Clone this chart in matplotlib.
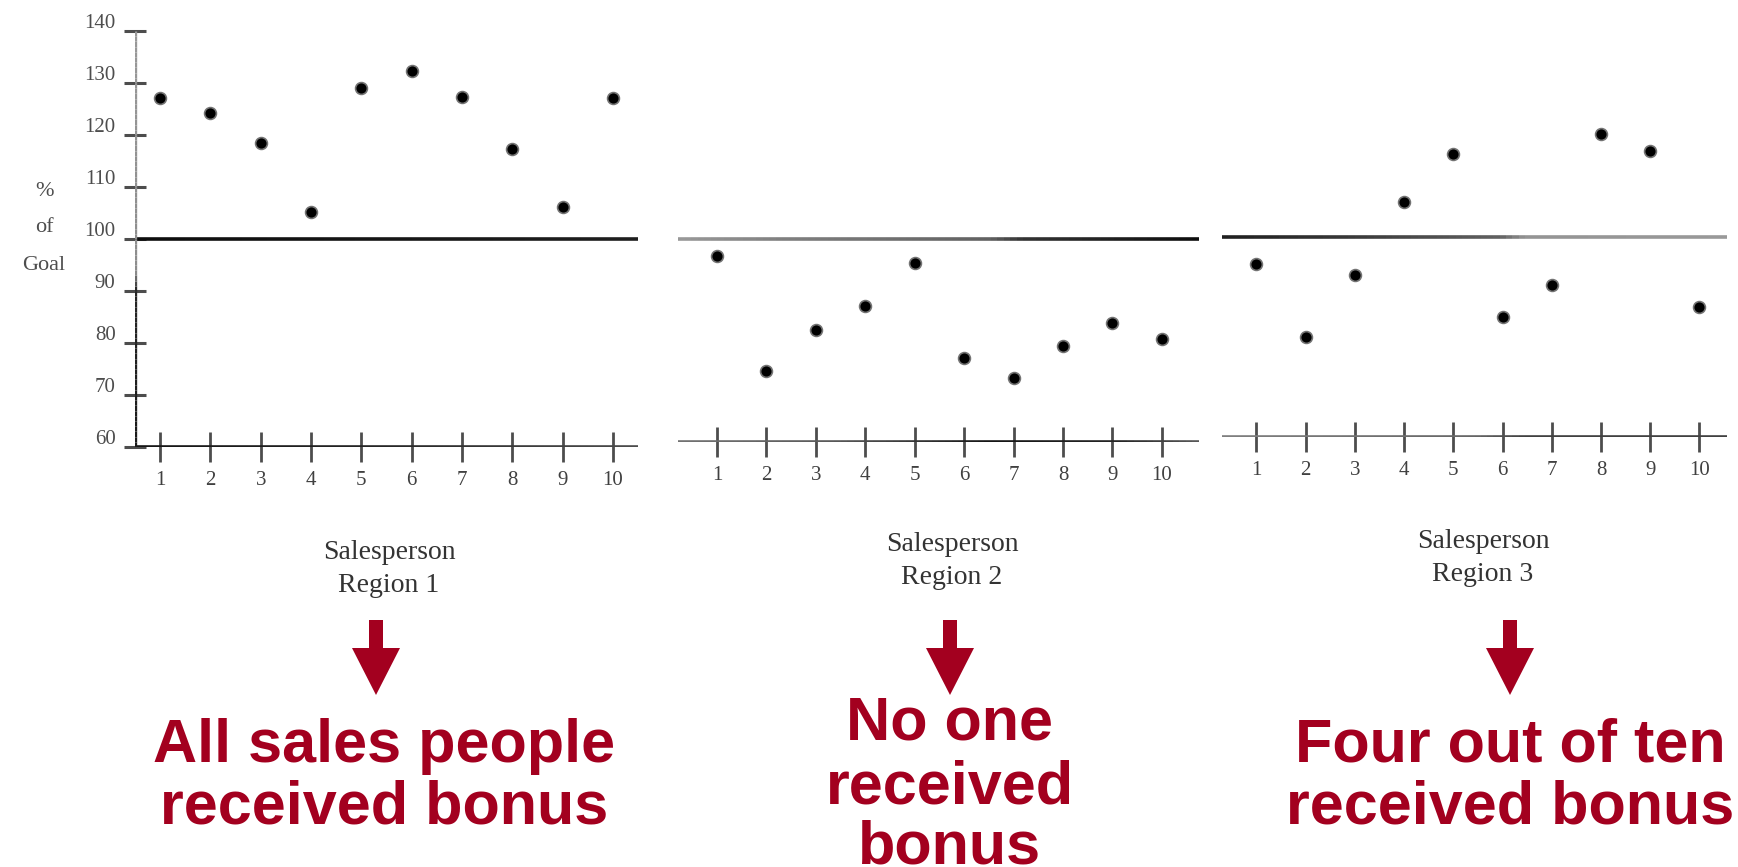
import matplotlib
matplotlib.use("Agg")
import matplotlib.pyplot as plt
import matplotlib.transforms as mtransforms
import numpy as np
from matplotlib.collections import LineCollection
from matplotlib.patches import Polygon

W, H, DPI = 1738, 867, 100

# ---- data -------------------------------------------------------------
salespeople = list(range(1, 11))
region1_pct = [127.2, 124.2, 118.5, 105.1, 129.0, 132.3, 127.4, 117.4, 106.2, 127.2]
region2_pct = [96.7, 74.0, 82.1, 86.8, 95.2, 76.5, 72.6, 78.9, 83.5, 80.2]
region3_pct = [94.7, 80.1, 92.5, 107.0, 116.7, 84.1, 90.5, 120.7, 117.3, 86.1]
goal_pct = 100
y_ticks = [60, 70, 80, 90, 100, 110, 120, 130, 140]
region_labels = ["Salesperson\nRegion 1", "Salesperson\nRegion 2", "Salesperson\nRegion 3"]
captions = [["All sales people", "received bonus"],
            ["No one", "received", "bonus"],
            ["Four out of ten", "received bonus"]]

RED = "#a3001f"
SERIF = ["Liberation Serif", "DejaVu Serif"]
SANS = ["Liberation Sans", "DejaVu Sans"]

fig = plt.figure(figsize=(W / DPI, H / DPI), dpi=DPI)
fig.patch.set_facecolor("white")


def px_axes(left, top, right, bottom):
    ax = fig.add_axes([left / W, 1 - bottom / H, (right - left) / W, (bottom - top) / H])
    ax.patch.set_alpha(0)
    for s in ax.spines.values():
        s.set_visible(False)
    return ax


def shaded_line(ax, p0, p1, stops, lw, n=80):
    """Straight line whose grey level varies along its length."""
    t = np.linspace(0, 1, n + 1)
    xs = p0[0] + (p1[0] - p0[0]) * t
    ys = p0[1] + (p1[1] - p0[1]) * t
    segs = [[(xs[i], ys[i]), (xs[i + 1], ys[i + 1])] for i in range(n)]
    mid = (t[:-1] + t[1:]) / 2
    g = np.interp(mid, [s[0] for s in stops], [s[1] for s in stops])
    lc = LineCollection(segs, colors=[(v, v, v) for v in g], linewidths=lw,
                        capstyle="butt", zorder=2)
    ax.add_collection(lc)


# panel boxes in pixels (left, top, right, bottom) and x-limits
panels = [
    dict(box=(135, 31, 638, 447), xlim=(0.5, 10.5), data=region1_pct,
         goal_stops=[(0, 0.05), (1, 0.12)],
         axis_stops=[(0, 0.08), (0.5, 0.15), (1, 0.3)]),
    dict(box=(678, 36, 1199, 442), xlim=(0.21, 10.75), data=region2_pct,
         goal_stops=[(0, 0.6), (0.2, 0.5), (0.6, 0.38), (0.66, 0.2), (1, 0.05)],
         axis_stops=[(0, 0.45), (0.3, 0.35), (0.6, 0.08), (0.85, 0.15), (1, 0.35)]),
    dict(box=(1222, 37, 1727, 437), xlim=(0.30, 10.56), data=region3_pct,
         goal_stops=[(0, 0.12), (0.25, 0.22), (0.55, 0.38), (0.6, 0.58), (1, 0.6)],
         axis_stops=[(0, 0.5), (0.5, 0.4), (0.6, 0.25), (1, 0.25)]),
]

axes = []
for i, p in enumerate(panels):
    ax = px_axes(*p["box"])
    ax.set_xlim(*p["xlim"])
    ax.set_ylim(y_ticks[0], y_ticks[-1])
    x0, x1 = p["xlim"]

    # goal line and salesperson axis
    shaded_line(ax, (x0, goal_pct), (x1, goal_pct), p["goal_stops"], 2.6)
    shaded_line(ax, (x0, y_ticks[0]), (x1, y_ticks[0]), p["axis_stops"], 2.6)

    # points
    ax.plot(salespeople, p["data"], linestyle="none", marker="o", ms=8.5,
            mew=1.2, mec="0.45", mfc="black", zorder=4)

    ax.set_xticks(salespeople)
    ax.set_xticklabels([str(s) for s in salespeople], fontfamily=SERIF,
                       fontsize=15, color="0.25")
    ax.tick_params(axis="x", direction="inout", length=22, width=2.0,
                   color="0.3", pad=6)
    if i == 0:
        shaded_line(ax, (x0, y_ticks[0]), (x0, y_ticks[-1]),
                    [(0, 0.1), (0.38, 0.15), (0.42, 0.55), (1, 0.6)], 2.4)
        ax.set_yticks(y_ticks)
        ax.set_yticklabels([str(v) for v in y_ticks], fontfamily=SERIF,
                           fontsize=15, color="0.3")
        ax.tick_params(axis="y", direction="inout", length=16, width=2.2,
                       color="0.3", pad=6)
        shift = mtransforms.ScaledTranslation(0, 0.1, fig.dpi_scale_trans)
        for lab in ax.get_yticklabels():
            lab.set_transform(lab.get_transform() + shift)
    else:
        ax.set_yticks([])
    axes.append(ax)


def fig_text(x, y, s, **kw):
    fig.text(x / W, 1 - y / H, s, **kw)


# y-axis title
for s, y in zip(["%", "of", "Goal"], [191, 228, 265]):
    fig_text(44, y, s, ha="center", va="center", fontfamily=SERIF,
             fontsize=16, color="0.3")

# region labels
label_pos = [(389, 569), (952, 561), (1483, 558)]
for (x, y), s in zip(label_pos, region_labels):
    fig_text(x, y, s, ha="center", va="center", fontfamily=SERIF,
             fontsize=20, color="0.2", linespacing=1.45)

# arrows
arrow_x = [376, 950, 1510]
for cx in arrow_x:
    pts = [(cx - 7, 620), (cx + 7, 620), (cx + 7, 648), (cx + 24, 648),
           (cx, 695), (cx - 24, 648), (cx - 7, 648)]
    poly = Polygon([(x / DPI, (H - y) / DPI) for x, y in pts], closed=True,
                   facecolor=RED, edgecolor="none",
                   transform=fig.dpi_scale_trans)
    fig.add_artist(poly)

# captions
caption_x = [384, 950, 1510]
caption_base = [[762, 824], [740, 803, 864], [762, 824]]
for cx, lines, bases in zip(caption_x, captions, caption_base):
    for s, b in zip(lines, bases):
        fig_text(cx, b, s, ha="center", va="baseline", fontfamily=SANS,
                 fontweight="bold", fontsize=44, color=RED)

fig.savefig("out.png", dpi=DPI)
